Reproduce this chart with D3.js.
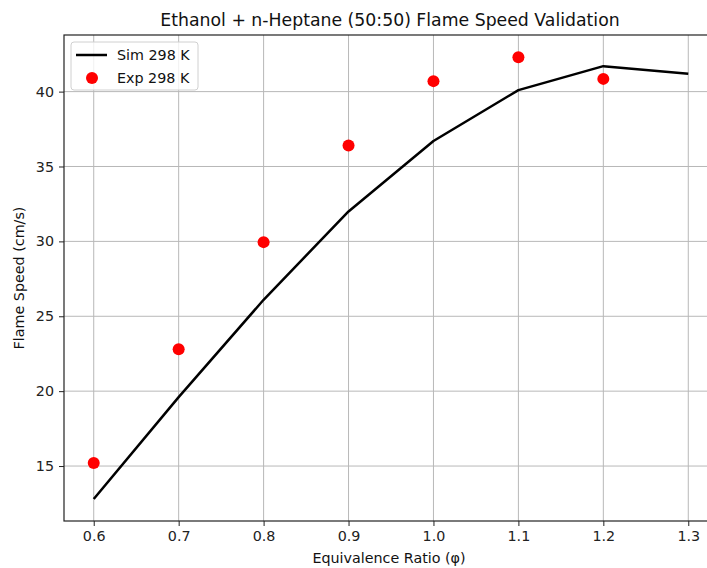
<!DOCTYPE html>
<html><head><meta charset="utf-8">
<script src="https://cdn.jsdelivr.net/npm/d3@7"></script>
<style>body{margin:0;background:#fff;} svg{display:block;font-family:"DejaVu Sans",sans-serif;}</style>
</head><body><div id="chart"></div>
<script>
const simPhi = [0.6, 0.7, 0.8, 0.9, 1.0, 1.1, 1.2, 1.3];
const simSpeed = [12.8, 19.6, 26.1, 32.0, 36.7, 40.1, 41.7, 41.2];
const expPhi = [0.6, 0.7, 0.8, 0.9, 1.0, 1.1, 1.2];
const expSpeed = [15.2, 22.8, 29.95, 36.4, 40.7, 42.3, 40.85];
const xTicks = [0.6, 0.7, 0.8, 0.9, 1.0, 1.1, 1.2, 1.3];
const yTicks = [15, 20, 25, 30, 35, 40];

const W = 707, H = 568;
const m = {left: 64, top: 35, right: 718, bottom: 521};
const svg = d3.select("#chart").append("svg").attr("width", W).attr("height", H);

const x = d3.scaleLinear().domain([0.565, 1.335]).range([m.left, m.right]);
const y = d3.scaleLinear().domain([11.33, 43.78]).range([m.bottom, m.top]);

// grid
svg.append("g").selectAll("line").data(xTicks).join("line")
  .attr("x1", d => x(d)).attr("x2", d => x(d)).attr("y1", m.top).attr("y2", m.bottom)
  .attr("stroke", "#b8b8b8").attr("stroke-width", 1);
svg.append("g").selectAll("line").data(yTicks).join("line")
  .attr("y1", d => y(d)).attr("y2", d => y(d)).attr("x1", m.left).attr("x2", m.right)
  .attr("stroke", "#b8b8b8").attr("stroke-width", 1);

// axes
const xAxis = d3.axisBottom(x).tickValues(xTicks).tickFormat(d3.format(".1f")).tickSize(5).tickPadding(5);
const gx = svg.append("g").attr("transform", `translate(0,${m.bottom})`).call(xAxis);
const yAxis = d3.axisLeft(y).tickValues(yTicks).tickFormat(d3.format("d")).tickSize(5).tickPadding(5);
const gy = svg.append("g").attr("transform", `translate(${m.left},0)`).call(yAxis);
[gx, gy].forEach(g => {
  g.select(".domain").remove();
  g.selectAll("text").attr("font-size", 14.3).attr("fill", "#222").attr("font-family", "DejaVu Sans");
  g.selectAll("line").attr("stroke", "#222");
});

// frame
svg.append("rect").attr("x", m.left).attr("y", m.top).attr("width", m.right - m.left).attr("height", m.bottom - m.top)
  .attr("fill", "none").attr("stroke", "#222").attr("stroke-width", 1.2);

// sim line
const line = d3.line().x((d, i) => x(simPhi[i])).y(d => y(d));
svg.append("path").datum(simSpeed).attr("d", line).attr("fill", "none")
  .attr("stroke", "#000").attr("stroke-width", 2.5).attr("stroke-linejoin", "round");

// exp points
svg.append("g").selectAll("circle").data(expSpeed).join("circle")
  .attr("cx", (d, i) => x(expPhi[i])).attr("cy", d => y(d)).attr("r", 6).attr("fill", "red");

// title & labels
svg.append("text").attr("x", 390).attr("y", 26).attr("text-anchor", "middle")
  .attr("font-size", 17.3).attr("fill", "#111").text("Ethanol + n-Heptane (50:50) Flame Speed Validation");
svg.append("text").attr("x", 389).attr("y", 563).attr("text-anchor", "middle")
  .attr("font-size", 14.3).attr("fill", "#111").text("Equivalence Ratio (φ)");
svg.append("text").attr("transform", "translate(24,278) rotate(-90)").attr("text-anchor", "middle")
  .attr("font-size", 14.3).attr("fill", "#111").text("Flame Speed (cm/s)");

// legend
const lg = svg.append("g");
lg.append("rect").attr("x", 71).attr("y", 42).attr("width", 127).attr("height", 48).attr("rx", 3)
  .attr("fill", "#fff").attr("fill-opacity", 0.8).attr("stroke", "#d0d0d0");
lg.append("line").attr("x1", 76).attr("x2", 107).attr("y1", 55).attr("y2", 55).attr("stroke", "#000").attr("stroke-width", 2.5);
lg.append("circle").attr("cx", 92).attr("cy", 78).attr("r", 6).attr("fill", "red");
lg.append("text").attr("x", 117).attr("y", 60).attr("font-size", 14.3).attr("fill", "#111").text("Sim 298 K");
lg.append("text").attr("x", 117).attr("y", 83).attr("font-size", 14.3).attr("fill", "#111").text("Exp 298 K");
</script></body></html>
